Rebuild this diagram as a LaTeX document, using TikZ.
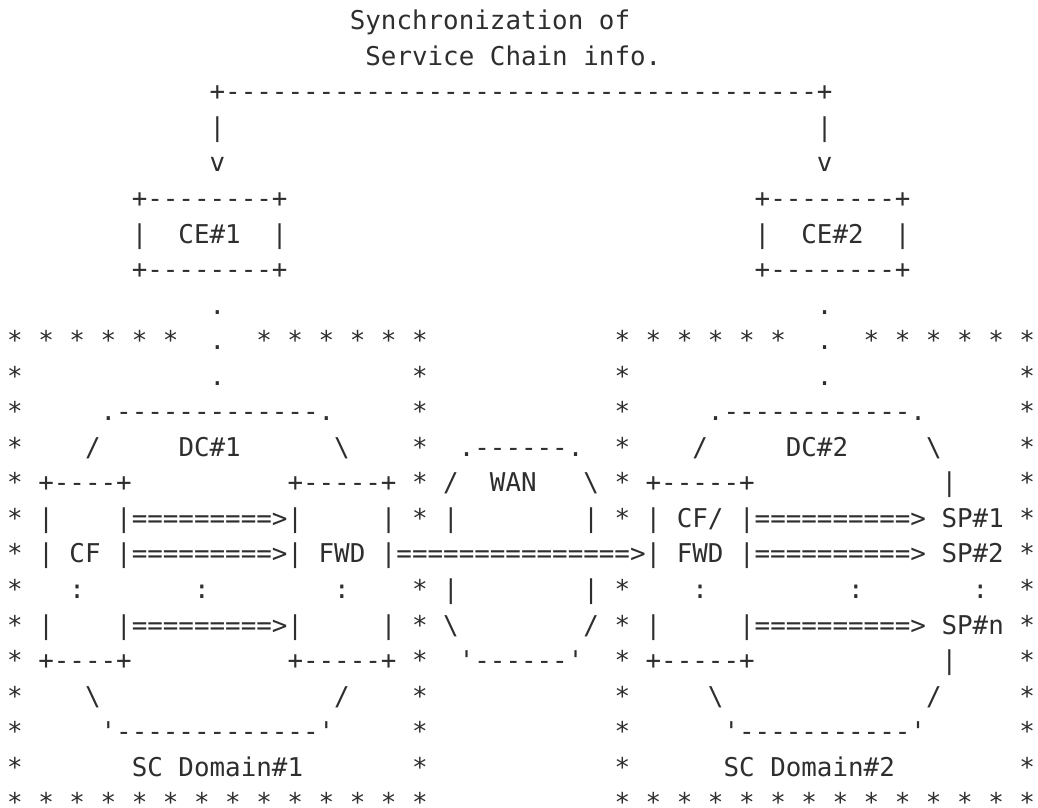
\documentclass[tikz,border=0pt]{standalone}
\usepackage{fontspec}
\setmonofont{DejaVu Sans Mono}
\definecolor{ink}{HTML}{2E2E2E}
% blank columns of the fixed-pitch grid
\newcommand\blankcols[1]{\hskip #1\fontcharwd\font`\0\relax}
\newcommand\asciirow[2]{\node[asciiline] (l#1) at (7.2,{243+(#1-7)*35.55}) {#2};}
\tikzset{asciiline/.style={anchor=base west, inner sep=0pt, outer sep=0pt, text=ink,
  font=\ttfamily\fontsize{19.4pt}{26pt}\selectfont\frenchspacing}}
\begin{document}
\begin{tikzpicture}[x=0.75pt,y=-0.75pt]
\fill[white] (0,0) rectangle (1038,807);
\useasboundingbox (0,0) rectangle (1038,807);
\asciirow{1}{\blankcols{22}Synchronization~of}
\asciirow{2}{\blankcols{23}Service~Chain~info.}
\asciirow{3}{\blankcols{13}+--------------------------------------+}
\asciirow{4}{\blankcols{13}|\blankcols{38}|}
\asciirow{5}{\blankcols{13}v\blankcols{38}v}
\asciirow{6}{\blankcols{8}+--------+\blankcols{30}+--------+}
\asciirow{7}{\blankcols{8}|\blankcols{2}CE\#1\blankcols{2}|\blankcols{30}|\blankcols{2}CE\#2\blankcols{2}|}
\asciirow{8}{\blankcols{8}+--------+\blankcols{30}+--------+}
\asciirow{9}{\blankcols{13}.\blankcols{38}.}
\asciirow{10}{*~*~*~*~*~*\blankcols{2}.\blankcols{2}*~*~*~*~*~*\blankcols{12}*~*~*~*~*~*\blankcols{2}.\blankcols{2}*~*~*~*~*~*}
\asciirow{11}{*\blankcols{12}.\blankcols{12}*\blankcols{12}*\blankcols{12}.\blankcols{12}*}
\asciirow{12}{*\blankcols{5}.-------------.\blankcols{5}*\blankcols{12}*\blankcols{5}.------------.\blankcols{6}*}
\asciirow{13}{*\blankcols{4}/\blankcols{5}DC\#1\blankcols{6}\textbackslash\blankcols{4}*\blankcols{2}.------.\blankcols{2}*\blankcols{4}/\blankcols{5}DC\#2\blankcols{5}\textbackslash\blankcols{5}*}
\asciirow{14}{*~+----+\blankcols{10}+-----+~*~/\blankcols{2}WAN\blankcols{3}\textbackslash~*~+-----+\blankcols{12}|\blankcols{4}*}
\asciirow{15}{*~|\blankcols{4}|=========>|\blankcols{5}|~*~|\blankcols{8}|~*~|~CF/~|==========>~SP\#1~*}
\asciirow{16}{*~|~CF~|=========>|~FWD~|===============>|~FWD~|==========>~SP\#2~*}
\asciirow{17}{*\blankcols{3}:\blankcols{7}:\blankcols{8}:\blankcols{4}*~|\blankcols{8}|~*\blankcols{4}:\blankcols{9}:\blankcols{7}:\blankcols{2}*}
\asciirow{18}{*~|\blankcols{4}|=========>|\blankcols{5}|~*~\textbackslash\blankcols{8}/~*~|\blankcols{5}|==========>~SP\#n~*}
\asciirow{19}{*~+----+\blankcols{10}+-----+~*\blankcols{2}'------'\blankcols{2}*~+-----+\blankcols{12}|\blankcols{4}*}
\asciirow{20}{*\blankcols{4}\textbackslash\blankcols{15}/\blankcols{4}*\blankcols{12}*\blankcols{5}\textbackslash\blankcols{13}/\blankcols{5}*}
\asciirow{21}{*\blankcols{5}'-------------'\blankcols{5}*\blankcols{12}*\blankcols{6}'-----------'\blankcols{6}*}
\asciirow{22}{*\blankcols{7}SC~Domain\#1\blankcols{7}*\blankcols{12}*\blankcols{6}SC~Domain\#2\blankcols{8}*}
\asciirow{23}{*~*~*~*~*~*~*~*~*~*~*~*~*~*\blankcols{12}*~*~*~*~*~*~*~*~*~*~*~*~*~*}
\end{tikzpicture}
\end{document}
